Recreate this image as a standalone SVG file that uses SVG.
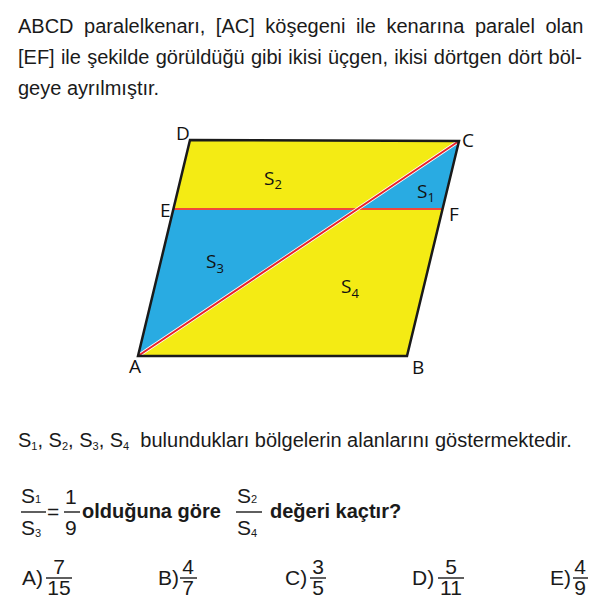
<svg xmlns="http://www.w3.org/2000/svg" width="599" height="606" viewBox="0 0 599 606">
<style>
.t{font-family:"Liberation Sans",Arial,sans-serif;font-size:20px;fill:#1a1a1a}
.b{font-family:"Liberation Sans",Arial,sans-serif;font-size:20px;font-weight:bold;fill:#1a1a1a}
.n{font-family:"Liberation Sans",Arial,sans-serif;font-size:21px;fill:#1a1a1a}
.sb{font-family:"Liberation Sans",Arial,sans-serif;font-size:11px;fill:#1a1a1a}
.lb{font-family:"Open Sans","Noto Sans",sans-serif;font-size:19px;fill:#111}
.ls{font-family:"Open Sans","Noto Sans",sans-serif;font-size:13px;fill:#111}
.bar{stroke:#1a1a1a;stroke-width:1.4}
</style>
<rect width="599" height="606" fill="#fff"/>
<g id="text-intro">
<text class="t" x="18" y="33" word-spacing="5">ABCD paralelkenarı, [AC] köşegeni ile kenarına paralel olan</text>
<text class="t" x="18" y="64" word-spacing="0.7">[EF] ile şekilde görüldüğü gibi ikisi üçgen, ikisi dörtgen dört böl-</text>
<text class="t" x="18" y="95">geye ayrılmıştır.</text>
</g>
<g id="figure">
<g id="regions">
<polygon points="190,140 459,141 407,356 138,356" fill="#F4EB14"/>
<polygon points="459,141 442.4,209 357.5,209" fill="#29ABE2"/>
<polygon points="173.4,209 357.5,209 138,356" fill="#29ABE2"/>
</g>
<g id="connectors">
<line x1="173.4" y1="209" x2="442.4" y2="209" stroke="#F0483C" stroke-width="2"/>
<line x1="138" y1="356" x2="459" y2="141" stroke="#fff" stroke-width="3.5"/>
<line x1="138" y1="356" x2="459" y2="141" stroke="#E8232B" stroke-width="2"/>
<polygon points="190,140 459,141 407,356 138,356" fill="none" stroke="#1a1a1a" stroke-width="2.5" stroke-linejoin="miter"/>
</g>
<g id="point-labels">
<text class="lb" x="176" y="140">D</text>
<text class="lb" x="462" y="147">C</text>
<text class="lb" x="160" y="217">E</text>
<text class="lb" x="449" y="221">F</text>
<text class="lb" x="129" y="373">A</text>
<text class="lb" x="412" y="374">B</text>
</g>
<g id="area-labels">
<text class="lb" x="264" y="185">S<tspan class="ls" dy="4">2</tspan></text>
<text class="lb" x="417" y="198">S<tspan class="ls" dy="4">1</tspan></text>
<text class="lb" x="206" y="268">S<tspan class="ls" dy="5">3</tspan></text>
<text class="lb" x="341" y="293">S<tspan class="ls" dy="5">4</tspan></text>
</g>
</g>
<g id="text-areas">
<text class="t" x="18" y="447">S<tspan class="sb" dy="3">1</tspan><tspan dy="-3">, S</tspan><tspan class="sb" dy="3">2</tspan><tspan dy="-3">, S</tspan><tspan class="sb" dy="3">3</tspan><tspan dy="-3">, S</tspan><tspan class="sb" dy="3">4</tspan><tspan dy="-3" xml:space="preserve">  bulundukları bölgelerin alanlarını göstermektedir.</tspan></text>
</g>
<g id="question">
<text class="n" x="21" y="503">S<tspan class="sb">1</tspan></text>
<line class="bar" x1="21" y1="512" x2="46" y2="512"/>
<text class="n" x="21" y="535">S<tspan class="sb" dy="2">3</tspan></text>
<text class="n" x="47" y="519">=</text>
<text class="n" x="65" y="504">1</text>
<line class="bar" x1="64" y1="512" x2="80" y2="512"/>
<text class="n" x="65" y="535">9</text>
<text class="b" x="82" y="518">olduğuna göre</text>
<text class="n" x="237" y="503">S<tspan class="sb">2</tspan></text>
<line class="bar" x1="236" y1="512" x2="262" y2="512"/>
<text class="n" x="237" y="535">S<tspan class="sb" dy="2">4</tspan></text>
<text class="b" x="270" y="518">değeri kaçtır?</text>
</g>
<g id="answers">
<text class="n" x="22" y="585">A)</text>
<text class="n" x="59" y="574" text-anchor="middle">7</text>
<line class="bar" x1="46" y1="578" x2="72" y2="578"/>
<text class="n" x="59" y="595" text-anchor="middle">15</text>
<text class="n" x="158" y="585">B)</text>
<text class="n" x="188" y="574" text-anchor="middle">4</text>
<line class="bar" x1="180" y1="578" x2="197" y2="578"/>
<text class="n" x="188" y="595" text-anchor="middle">7</text>
<text class="n" x="285" y="585">C)</text>
<text class="n" x="318" y="574" text-anchor="middle">3</text>
<line class="bar" x1="310" y1="578" x2="326" y2="578"/>
<text class="n" x="318" y="595" text-anchor="middle">5</text>
<text class="n" x="412" y="585">D)</text>
<text class="n" x="451" y="574" text-anchor="middle">5</text>
<line class="bar" x1="438" y1="578" x2="464" y2="578"/>
<text class="n" x="451" y="595" text-anchor="middle">11</text>
<text class="n" x="550" y="585">E)</text>
<text class="n" x="580" y="574" text-anchor="middle">4</text>
<line class="bar" x1="573" y1="578" x2="588" y2="578"/>
<text class="n" x="580" y="595" text-anchor="middle">9</text>
</g>
</svg>
